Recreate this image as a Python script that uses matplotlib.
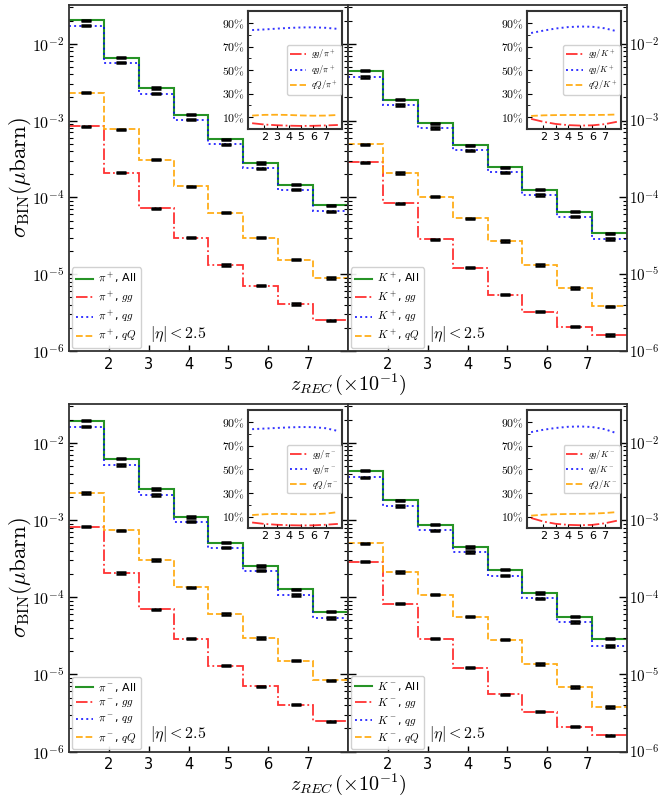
import numpy as np
import matplotlib
matplotlib.use("Agg")
import matplotlib.pyplot as plt
from matplotlib.ticker import FuncFormatter, FixedLocator, LogLocator, NullFormatter, MultipleLocator

plt.rcParams['mathtext.fontset'] = 'cm'
plt.rcParams['font.family'] = ['DejaVu Sans']

# ---------------- data ----------------
z_edges = [1.0, 1.875, 2.75, 3.625, 4.5, 5.375, 6.25, 7.125, 8.0]
inset_bins = [1, 2, 3, 4, 5, 6, 7, 8]

# pi+
pip_all = [2.03e-2, 6.6e-3, 2.67e-3, 1.2e-3, 5.7e-4, 2.8e-4, 1.46e-4, 7.85e-5]
pip_gg = [8.4e-4, 2.1e-4, 7.2e-5, 2.98e-5, 1.32e-5, 7.1e-6, 4.1e-6, 2.5e-6]
pip_qg = [1.73e-2, 5.7e-3, 2.25e-3, 1.03e-3, 4.9e-4, 2.4e-4, 1.26e-4, 6.6e-5]
pip_qQ = [2.32e-3, 7.7e-4, 3.1e-4, 1.39e-4, 6.3e-5, 3.0e-5, 1.54e-5, 8.9e-6]
pip_r_gg = [0.048, 0.037, 0.031, 0.027, 0.025, 0.026, 0.029, 0.033]
pip_r_qg = [0.840, 0.845, 0.852, 0.858, 0.862, 0.863, 0.859, 0.850]
pip_r_qQ = [0.113, 0.119, 0.120, 0.118, 0.114, 0.112, 0.113, 0.118]

# K+
kp_all = [4.47e-3, 1.87e-3, 9.2e-4, 4.76e-4, 2.46e-4, 1.26e-4, 6.5e-5, 3.4e-5]
kp_gg = [2.86e-4, 8.4e-5, 2.85e-5, 1.22e-5, 5.4e-6, 3.25e-6, 2.07e-6, 1.61e-6]
kp_qg = [3.7e-3, 1.6e-3, 8.0e-4, 4.1e-4, 2.12e-4, 1.07e-4, 5.6e-5, 2.88e-5]
kp_qQ = [4.9e-4, 2.08e-4, 1.02e-4, 5.35e-5, 2.71e-5, 1.32e-5, 6.6e-6, 3.8e-6]
kp_r_gg = [0.085, 0.060, 0.042, 0.032, 0.028, 0.030, 0.040, 0.060]
kp_r_qg = [0.815, 0.835, 0.853, 0.865, 0.870, 0.868, 0.855, 0.830]
kp_r_qQ = [0.110, 0.115, 0.117, 0.118, 0.118, 0.118, 0.119, 0.122]

# pi-
pim_all = [1.95e-2, 6.25e-3, 2.52e-3, 1.1e-3, 5.1e-4, 2.55e-4, 1.26e-4, 6.5e-5]
pim_gg = [8.2e-4, 2.07e-4, 6.97e-5, 2.89e-5, 1.3e-5, 7.0e-6, 4.04e-6, 2.45e-6]
pim_qg = [1.63e-2, 5.2e-3, 2.12e-3, 9.5e-4, 4.4e-4, 2.2e-4, 1.07e-4, 5.37e-5]
pim_qQ = [2.25e-3, 7.4e-4, 3.03e-4, 1.35e-4, 6.05e-5, 2.95e-5, 1.5e-5, 8.4e-6]
pim_r_gg = [0.050, 0.038, 0.031, 0.027, 0.025, 0.026, 0.031, 0.038]
pim_r_qg = [0.840, 0.845, 0.850, 0.855, 0.858, 0.857, 0.848, 0.825]
pim_r_qQ = [0.113, 0.120, 0.123, 0.122, 0.120, 0.120, 0.125, 0.138]

# K-
km_all = [4.37e-3, 1.81e-3, 8.7e-4, 4.5e-4, 2.27e-4, 1.14e-4, 5.6e-5, 2.89e-5]
km_gg = [2.88e-4, 8.26e-5, 2.89e-5, 1.22e-5, 5.5e-6, 3.27e-6, 2.09e-6, 1.62e-6]
km_qg = [3.57e-3, 1.53e-3, 7.4e-4, 3.85e-4, 1.91e-4, 9.7e-5, 4.76e-5, 2.34e-5]
km_qQ = [4.99e-4, 2.13e-4, 1.08e-4, 5.6e-5, 2.83e-5, 1.36e-5, 6.85e-6, 3.76e-6]
km_r_gg = [0.088, 0.058, 0.039, 0.030, 0.027, 0.030, 0.043, 0.065]
km_r_qg = [0.815, 0.835, 0.850, 0.860, 0.863, 0.858, 0.840, 0.805]
km_r_qQ = [0.108, 0.116, 0.120, 0.122, 0.123, 0.125, 0.130, 0.138]

hadron_labels = [r'\pi^+', r'K^+', r'\pi^-', r'K^-']

panels = [
    (pip_all, pip_gg, pip_qg, pip_qQ, pip_r_gg, pip_r_qg, pip_r_qQ),
    (kp_all, kp_gg, kp_qg, kp_qQ, kp_r_gg, kp_r_qg, kp_r_qQ),
    (pim_all, pim_gg, pim_qg, pim_qQ, pim_r_gg, pim_r_qg, pim_r_qQ),
    (km_all, km_gg, km_qg, km_qQ, km_r_gg, km_r_qg, km_r_qQ),
]

# ---------------- figure ----------------
W, H = 659, 800
fig = plt.figure(figsize=(W / 100, H / 100), dpi=100)

def fx(px):
    return px / W

def fy(py):
    return 1 - py / H

ax_left_px = [69, 348]
ax_right_px = [348, 627]
rows_px = [(5, 351), (404, 751.5)]

spine_col = '#333333'
edges = np.array(z_edges)
centers = 0.5 * (edges[:-1] + edges[1:])

def log_fmt(v, pos):
    e = int(np.round(np.log10(v)))
    return r'$10^{%d}$' % e

styles = {
    'all': dict(color='green', ls='-', lw=1.5, alpha=0.85),
    'gg': dict(color='red', ls='-.', lw=1.3, alpha=0.8),
    'qg': dict(color='blue', ls=':', lw=1.4, alpha=0.8),
    'qQ': dict(color='orange', ls='--', lw=1.3, alpha=0.9),
}

for i, data in enumerate(panels):
    r, c = divmod(i, 2)
    x0, x1 = (ax_left_px if c == 0 else ax_right_px)
    y0, y1 = rows_px[r]
    ax = fig.add_axes([fx(x0), fy(y1), fx(x1 - x0), (y1 - y0) / H])
    allv, gg, qg, qQ, rgg, rqg, rqQ = data
    h = hadron_labels[i]

    ax.stairs(allv, edges, baseline=None, label=r'$%s$, All' % h, **styles['all'])
    ax.stairs(gg, edges, baseline=None, label=r'$%s$, $gg$' % h, **styles['gg'])
    ax.stairs(qg, edges, baseline=None, label=r'$%s$, $qg$' % h, **styles['qg'])
    ax.stairs(qQ, edges, baseline=None, label=r'$%s$, $qQ$' % h, **styles['qQ'])
    for arr in (allv, gg, qg, qQ):
        a = np.array(arr)
        ax.errorbar(centers, a, yerr=0.02 * a, fmt='none', ecolor='black',
                    elinewidth=1.0, capsize=3.4, capthick=1.8, zorder=5)

    ax.set_yscale('log')
    ax.set_xlim(edges[0], edges[-1])
    ax.set_ylim(1e-6, 3.2e-2)
    ax.xaxis.set_major_locator(FixedLocator([2, 3, 4, 5, 6, 7]))
    ax.yaxis.set_major_locator(LogLocator(base=10, numticks=10))
    ax.yaxis.set_minor_locator(LogLocator(base=10, subs=np.arange(2, 10), numticks=20))
    ax.yaxis.set_major_formatter(FuncFormatter(log_fmt))
    ax.yaxis.set_minor_formatter(NullFormatter())
    ax.tick_params(axis='both', which='both', direction='in', top=False,
                   left=True, right=True, colors='black')
    ax.tick_params(axis='y', which='major', length=6, width=1.0, labelsize=11.5, pad=3)
    ax.tick_params(axis='y', which='minor', length=3, width=0.8)
    ax.tick_params(axis='x', which='major', length=4, width=1.0, labelsize=10.5, pad=4)
    if c == 1:
        ax.tick_params(axis='y', which='both', labelleft=False, labelright=True,
                       labelsize=10.8, pad=1.2)
    for s in ax.spines.values():
        s.set_linewidth(1.3)
        s.set_color(spine_col)

    ax.legend(loc='lower left', fontsize=8, handlelength=1.6,
              labelspacing=0.3, borderpad=0.35, handletextpad=0.45,
              borderaxespad=0.25, framealpha=0.9, edgecolor='#cccccc')
    ax.text(0.292, 0.05, r'$|\eta|<2.5$', transform=ax.transAxes,
            ha='left', va='center', fontsize=11.5)

    # inset
    ins = ax.inset_axes([0.641, 0.642, 0.338, 0.340])
    ins.plot(inset_bins, rgg, label=r'$gg/%s$' % h, **styles['gg'])
    ins.plot(inset_bins, rqg, label=r'$qg/%s$' % h, **styles['qg'])
    ins.plot(inset_bins, rqQ, label=r'$qQ/%s$' % h, **styles['qQ'])
    ins.set_ylim(0, 1.0)
    ins.xaxis.set_major_locator(FixedLocator([2, 3, 4, 5, 6, 7]))
    ins.yaxis.set_major_locator(FixedLocator([0.1, 0.3, 0.5, 0.7, 0.9]))
    ins.yaxis.set_minor_locator(MultipleLocator(0.1))
    ins.yaxis.set_major_formatter(FuncFormatter(lambda v, p: r'$%d\%%$' % int(round(v * 100))))
    ins.tick_params(axis='both', which='both', direction='in', labelsize=8)
    ins.tick_params(axis='y', which='major', length=3.5, labelsize=8.5, pad=2)
    ins.tick_params(axis='y', which='minor', length=2)
    ins.tick_params(axis='x', which='major', length=3, pad=2)
    for s in ins.spines.values():
        s.set_linewidth(1.5)
        s.set_color(spine_col)
    ins.legend(loc='center right', fontsize=6, handlelength=2.0,
               labelspacing=0.25, borderpad=0.3, handletextpad=0.6,
               framealpha=0.9, edgecolor='#cccccc', borderaxespad=0.15)

# axis labels
for r, (y0, y1) in enumerate(rows_px):
    fig.text(fx(20), fy((y0 + y1) / 2), r'$\sigma_{\rm BIN}(\mu{\rm barn})$',
             rotation=90, ha='center', va='center', fontsize=16.5)
    fig.text(fx(348), fy(y1 + 33), r'$z_{REC}\,(\times 10^{-1})$',
             ha='center', va='center', fontsize=14.5)

fig.savefig('out.png', dpi=100)
